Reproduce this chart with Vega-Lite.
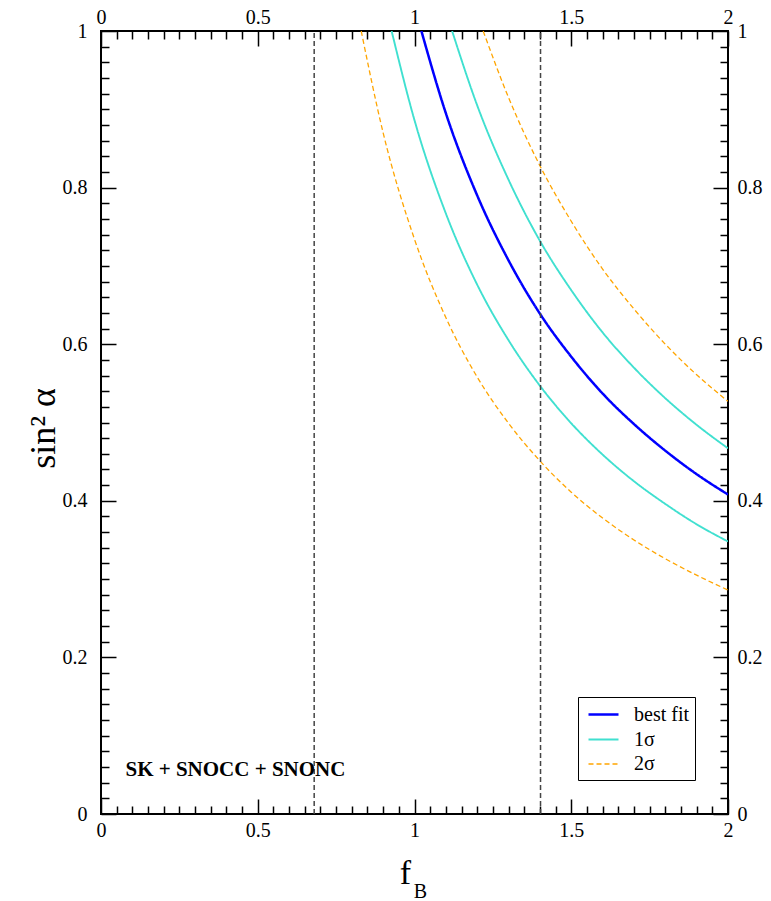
{
  "$schema": "https://vega.github.io/schema/vega-lite/v6.json",
  "width": 627,
  "height": 783,
  "autosize": {"type": "none"},
  "padding": {"left": 101, "top": 31, "right": 43, "bottom": 87},
  "background": "white",
  "config": {
    "view": {"stroke": "black", "strokeWidth": 2},
    "axis": {
      "grid": false,
      "domain": false,
      "labelFont": "Liberation Serif",
      "labelFontSize": 20,
      "labelColor": "black",
      "tickColor": "black",
      "tickWidth": 1.5,
      "labelFlush": false,
      "labelOverlap": false,
      "titleFont": "Liberation Serif",
      "titleColor": "black",
      "titleFontWeight": "normal"
    }
  },
  "resolve": {"axis": {"x": "independent", "y": "independent"}},
  "layer": [
    {
      "data": {
        "values": [
          {"f": 1.022, "s": 1.0, "band": "best fit", "curve": "best"},
          {"f": 1.1, "s": 0.895, "band": "best fit", "curve": "best"},
          {"f": 1.2, "s": 0.79, "band": "best fit", "curve": "best"},
          {"f": 1.3, "s": 0.707, "band": "best fit", "curve": "best"},
          {"f": 1.4, "s": 0.639, "band": "best fit", "curve": "best"},
          {"f": 1.5, "s": 0.584, "band": "best fit", "curve": "best"},
          {"f": 1.6, "s": 0.537, "band": "best fit", "curve": "best"},
          {"f": 1.7, "s": 0.498, "band": "best fit", "curve": "best"},
          {"f": 1.8, "s": 0.464, "band": "best fit", "curve": "best"},
          {"f": 1.9, "s": 0.434, "band": "best fit", "curve": "best"},
          {"f": 2.0, "s": 0.408, "band": "best fit", "curve": "best"},
          {"f": 1.12, "s": 1.0, "band": "1σ", "curve": "s1up"},
          {"f": 1.2, "s": 0.905, "band": "1σ", "curve": "s1up"},
          {"f": 1.3, "s": 0.81, "band": "1σ", "curve": "s1up"},
          {"f": 1.4, "s": 0.732, "band": "1σ", "curve": "s1up"},
          {"f": 1.5, "s": 0.669, "band": "1σ", "curve": "s1up"},
          {"f": 1.6, "s": 0.615, "band": "1σ", "curve": "s1up"},
          {"f": 1.7, "s": 0.57, "band": "1σ", "curve": "s1up"},
          {"f": 1.8, "s": 0.531, "band": "1σ", "curve": "s1up"},
          {"f": 1.9, "s": 0.497, "band": "1σ", "curve": "s1up"},
          {"f": 2.0, "s": 0.467, "band": "1σ", "curve": "s1up"},
          {"f": 0.927, "s": 1.0, "band": "1σ", "curve": "s1lo"},
          {"f": 1.0, "s": 0.886, "band": "1σ", "curve": "s1lo"},
          {"f": 1.1, "s": 0.767, "band": "1σ", "curve": "s1lo"},
          {"f": 1.2, "s": 0.676, "band": "1σ", "curve": "s1lo"},
          {"f": 1.3, "s": 0.605, "band": "1σ", "curve": "s1lo"},
          {"f": 1.4, "s": 0.547, "band": "1σ", "curve": "s1lo"},
          {"f": 1.5, "s": 0.499, "band": "1σ", "curve": "s1lo"},
          {"f": 1.6, "s": 0.459, "band": "1σ", "curve": "s1lo"},
          {"f": 1.7, "s": 0.425, "band": "1σ", "curve": "s1lo"},
          {"f": 1.8, "s": 0.396, "band": "1σ", "curve": "s1lo"},
          {"f": 1.9, "s": 0.37, "band": "1σ", "curve": "s1lo"},
          {"f": 2.0, "s": 0.348, "band": "1σ", "curve": "s1lo"},
          {"f": 1.219, "s": 1.0, "band": "2σ", "curve": "s2up"},
          {"f": 1.3, "s": 0.915, "band": "2σ", "curve": "s2up"},
          {"f": 1.4, "s": 0.828, "band": "2σ", "curve": "s2up"},
          {"f": 1.5, "s": 0.757, "band": "2σ", "curve": "s2up"},
          {"f": 1.6, "s": 0.696, "band": "2σ", "curve": "s2up"},
          {"f": 1.7, "s": 0.645, "band": "2σ", "curve": "s2up"},
          {"f": 1.8, "s": 0.6, "band": "2σ", "curve": "s2up"},
          {"f": 1.9, "s": 0.561, "band": "2σ", "curve": "s2up"},
          {"f": 2.0, "s": 0.527, "band": "2σ", "curve": "s2up"},
          {"f": 0.83, "s": 1.0, "band": "2σ", "curve": "s2lo"},
          {"f": 0.9, "s": 0.87, "band": "2σ", "curve": "s2lo"},
          {"f": 1.0, "s": 0.734, "band": "2σ", "curve": "s2lo"},
          {"f": 1.1, "s": 0.634, "band": "2σ", "curve": "s2lo"},
          {"f": 1.2, "s": 0.558, "band": "2σ", "curve": "s2lo"},
          {"f": 1.3, "s": 0.499, "band": "2σ", "curve": "s2lo"},
          {"f": 1.4, "s": 0.451, "band": "2σ", "curve": "s2lo"},
          {"f": 1.5, "s": 0.411, "band": "2σ", "curve": "s2lo"},
          {"f": 1.6, "s": 0.378, "band": "2σ", "curve": "s2lo"},
          {"f": 1.7, "s": 0.35, "band": "2σ", "curve": "s2lo"},
          {"f": 1.8, "s": 0.326, "band": "2σ", "curve": "s2lo"},
          {"f": 1.9, "s": 0.305, "band": "2σ", "curve": "s2lo"},
          {"f": 2.0, "s": 0.286, "band": "2σ", "curve": "s2lo"}
        ]
      },
      "mark": {"type": "line", "interpolate": "monotone", "clip": true},
      "encoding": {
        "x": {
          "field": "f", "type": "quantitative",
          "scale": {"domain": [0, 2], "nice": false, "zero": false},
          "axis": {
            "orient": "bottom", "values": [0, 0.5, 1, 1.5, 2], "format": "~g",
            "labelFont": "Liberation Serif", "labelFontSize": 20,
            "tickSize": -15, "labelPadding": 21,
            "title": "f", "titleFont": "Liberation Serif", "titleFontSize": 34, "titleX": 304, "titleY": 69,
            "titleBaseline": "alphabetic", "titleAlign": "center", "titleAngle": 0
          }
        },
        "y": {
          "field": "s", "type": "quantitative",
          "scale": {"domain": [0, 1], "nice": false, "zero": false},
          "axis": {
            "orient": "left", "values": [0, 0.2, 0.4, 0.6, 0.8, 1], "format": "~g",
            "labelFont": "Liberation Serif", "labelFontSize": 20,
            "tickSize": -15, "labelPadding": 29,
            "title": "sin² α", "titleFont": "Liberation Serif", "titleFontSize": 36, "titleX": -47, "titleY": 397,
            "titleAngle": -90, "titleAlign": "center", "titleBaseline": "alphabetic"
          }
        },
        "detail": {"field": "curve"},
        "color": {
          "field": "band", "type": "nominal",
          "scale": {"domain": ["best fit", "1σ", "2σ"], "range": ["#0000ff", "#40e0d0", "#ffa500"]},
          "legend": {
            "orient": "none", "legendX": 477, "legendY": 666, "title": null,
            "strokeColor": "black", "fillColor": "white", "padding": 6,
            "symbolType": "M-1.5,0L1.5,0", "symbolSize": 400, "symbolOffset": 8,
            "labelFont": "Liberation Serif", "labelFontSize": 20, "labelColor": "black",
            "labelOffset": 19, "rowPadding": 3.5, "cornerRadius": 0
          }
        },
        "strokeDash": {
          "field": "band", "type": "nominal",
          "scale": {"domain": ["best fit", "1σ", "2σ"], "range": [[1, 0], [1, 0], [5, 3]]}
        },
        "strokeWidth": {
          "field": "band", "type": "nominal",
          "scale": {"domain": ["best fit", "1σ", "2σ"], "range": [2.5, 1.3, 1.3]}
        }
      }
    },
    {
      "data": {"values": [{"f": 0.68}]},
      "mark": {"type": "rule", "strokeDash": [5, 3], "color": "#444444", "strokeWidth": 1.5},
      "encoding": {
        "x": {
          "field": "f", "type": "quantitative",
          "scale": {"domain": [0, 2], "nice": false, "zero": false},
          "axis": {
            "orient": "top", "values": [0, 0.5, 1, 1.5, 2], "format": "~g",
            "labelFont": "Liberation Serif", "labelFontSize": 20,
            "tickSize": -15, "labelPadding": 19, "title": null
          }
        },
        "y": {
          "datum": 0, "type": "quantitative",
          "scale": {"domain": [0, 1], "nice": false, "zero": false},
          "axis": {
            "orient": "right", "values": [0, 0.2, 0.4, 0.6, 0.8, 1], "format": "~g",
            "labelFont": "Liberation Serif", "labelFontSize": 20,
            "tickSize": -15, "labelPadding": 24, "title": null
          }
        },
        "y2": {"datum": 1}
      }
    },
    {
      "data": {"values": [{"f": 1.402}]},
      "mark": {"type": "rule", "strokeDash": [5, 3], "color": "#444444", "strokeWidth": 1.5},
      "encoding": {
        "x": {
          "field": "f", "type": "quantitative",
          "scale": {"domain": [0, 2], "nice": false, "zero": false},
          "axis": {
            "orient": "top",
            "values": [0.05,0.1,0.15,0.2,0.25,0.3,0.35,0.4,0.45,0.55,0.6,0.65,0.7,0.75,0.8,0.85,0.9,0.95,1.05,1.1,1.15,1.2,1.25,1.3,1.35,1.4,1.45,1.55,1.6,1.65,1.7,1.75,1.8,1.85,1.9,1.95],
            "tickSize": -8, "labels": false, "title": null
          }
        },
        "y": {
          "datum": 0, "type": "quantitative",
          "scale": {"domain": [0, 1], "nice": false, "zero": false},
          "axis": {
            "orient": "right",
            "values": [0.02,0.04,0.06,0.08,0.1,0.12,0.14,0.16,0.18,0.22,0.24,0.26,0.28,0.3,0.32,0.34,0.36,0.38,0.42,0.44,0.46,0.48,0.5,0.52,0.54,0.56,0.58,0.62,0.64,0.66,0.68,0.7,0.72,0.74,0.76,0.78,0.82,0.84,0.86,0.88,0.9,0.92,0.94,0.96,0.98],
            "tickSize": -8, "labels": false, "title": null
          }
        },
        "y2": {"datum": 1}
      }
    },
    {
      "data": {"values": [{"f": 0.078, "s": 0.056, "label": "SK + SNOCC + SNONC"}]},
      "mark": {"type": "text", "align": "left", "baseline": "middle", "font": "Liberation Serif", "fontWeight": "bold", "fontSize": 21, "color": "black"},
      "encoding": {
        "x": {
          "field": "f", "type": "quantitative",
          "scale": {"domain": [0, 2], "nice": false, "zero": false},
          "axis": {
            "orient": "bottom",
            "values": [0.05,0.1,0.15,0.2,0.25,0.3,0.35,0.4,0.45,0.55,0.6,0.65,0.7,0.75,0.8,0.85,0.9,0.95,1.05,1.1,1.15,1.2,1.25,1.3,1.35,1.4,1.45,1.55,1.6,1.65,1.7,1.75,1.8,1.85,1.9,1.95],
            "tickSize": -8, "labels": false,
            "title": "B", "titleFont": "Liberation Serif", "titleFontSize": 20, "titleX": 319, "titleY": 83,
            "titleBaseline": "alphabetic", "titleAlign": "center", "titleAngle": 0
          }
        },
        "y": {
          "field": "s", "type": "quantitative",
          "scale": {"domain": [0, 1], "nice": false, "zero": false},
          "axis": {
            "orient": "left",
            "values": [0.02,0.04,0.06,0.08,0.1,0.12,0.14,0.16,0.18,0.22,0.24,0.26,0.28,0.3,0.32,0.34,0.36,0.38,0.42,0.44,0.46,0.48,0.5,0.52,0.54,0.56,0.58,0.62,0.64,0.66,0.68,0.7,0.72,0.74,0.76,0.78,0.82,0.84,0.86,0.88,0.9,0.92,0.94,0.96,0.98],
            "tickSize": -8, "labels": false, "title": null
          }
        },
        "text": {"field": "label"}
      }
    }
  ]
}
